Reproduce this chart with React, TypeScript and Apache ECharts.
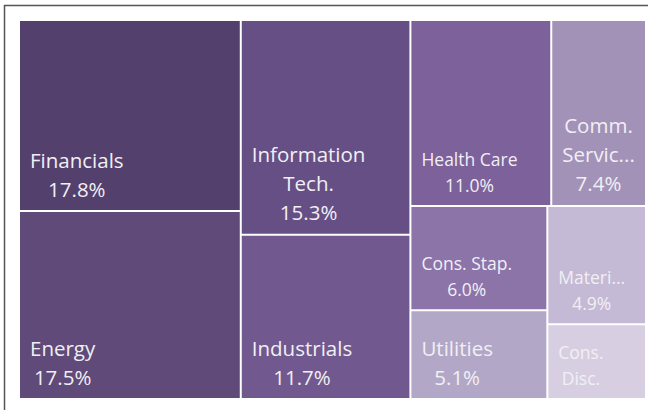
import React, { useEffect, useRef } from "react";
import * as echarts from "echarts";

const sectors = [
  "Financials",
  "Energy",
  "Information Tech.",
  "Industrials",
  "Health Care",
  "Comm. Services",
  "Cons. Stap.",
  "Utilities",
  "Materials",
  "Cons. Disc.",
];
const weights = [17.8, 17.5, 15.3, 11.7, 11.0, 7.4, 6.0, 5.1, 4.9, 3.1];
const shownLabels = [
  "Financials",
  "Energy",
  "Information\nTech.",
  "Industrials",
  "Health Care",
  "Comm.\nServic...",
  "Cons. Stap.",
  "Utilities",
  "Materi...",
  "Cons.\nDisc.",
];
const showPct = [true, true, true, true, true, true, true, true, true, false];

// styles
const tileColors = [
  "#54406c",
  "#5f4a79",
  "#664f84",
  "#71598f",
  "#7c619b",
  "#a392b8",
  "#8c74a9",
  "#b3a7c7",
  "#c5bad5",
  "#d7cfe1",
];
const sizeKey = ["b", "b", "b", "b", "s", "b", "s", "b", "s", "s"];

export default function App() {
  const ref = useRef<HTMLDivElement>(null);
  useEffect(() => {
    document.body.style.margin = "0";
    const chart = echarts.init(ref.current!, null, { renderer: "svg" });
    const data = sectors.map((name, i) => ({
      name,
      value: weights[i],
      itemStyle: { color: tileColors[i] },
    }));
    const font = "'Open Sans', sans-serif";
    const textFill = "#f1eff4";
    const rich = {
      b: { fontSize: 20.5, lineHeight: 29, align: "center", fill: textFill, fontFamily: font },
      s: { fontSize: 17.5, lineHeight: 26, align: "center", fill: textFill, fontFamily: font },
    };
    const frame = [
      {
        id: "frameTop",
        type: "line",
        shape: { x1: 4, y1: 5.5, x2: 648, y2: 5.5 },
        style: { stroke: "#555", lineWidth: 1.5 },
        silent: true,
      },
      {
        id: "frameLeft",
        type: "line",
        shape: { x1: 4.5, y1: 5, x2: 4.5, y2: 410 },
        style: { stroke: "#555", lineWidth: 1.5 },
        silent: true,
      },
    ];
    chart.setOption({
      animation: false,
      backgroundColor: "#ffffff",
      graphic: frame,
      series: [
        {
          type: "treemap",
          left: 18,
          top: 19,
          width: 629,
          height: 381,
          roam: false,
          nodeClick: false,
          squareRatio: 1,
          breadcrumb: { show: false },
          itemStyle: { borderColor: "#ffffff", borderWidth: 1, gapWidth: 0 },
          label: { show: false },
          data,
        },
      ],
    });

    // place labels at the bottom-left of each tile, using the treemap's own layout
    try {
      const model = (chart as any).getModel();
      const series = model.getSeriesByIndex(0);
      const li = series.layoutInfo || { x: 0, y: 0 };
      const root = series.getData().tree.root;
      const rl = root.getLayout() || { x: 0, y: 0 };
      const labels: any[] = [];
      root.children.forEach((node: any) => {
        const l = node.getLayout();
        if (!l) return;
        const i = sectors.indexOf(node.name);
        const k = sizeKey[i];
        const lines = shownLabels[i].split("\n").map((s) => `{${k}|${s}}`);
        if (showPct[i]) lines.push(`{${k}|${weights[i].toFixed(1)}%}`);
        const ax = li.x + rl.x + l.x;
        const ay = li.y + rl.y + l.y;
        labels.push({
          id: "lbl" + i,
          type: "text",
          silent: true,
          z: 100,
          x: ax + 11,
          y: ay + l.height - 8,
          style: {
            text: lines.join("\n"),
            align: "left",
            verticalAlign: "bottom",
            fill: textFill,
            fontFamily: font,
            rich,
          },
        });
      });
      chart.setOption({ graphic: [...frame, ...labels] });
    } catch (e) {
      // ignore
    }
    return () => chart.dispose();
  }, []);
  return <div ref={ref} style={{ width: 648, height: 410 }} />;
}
